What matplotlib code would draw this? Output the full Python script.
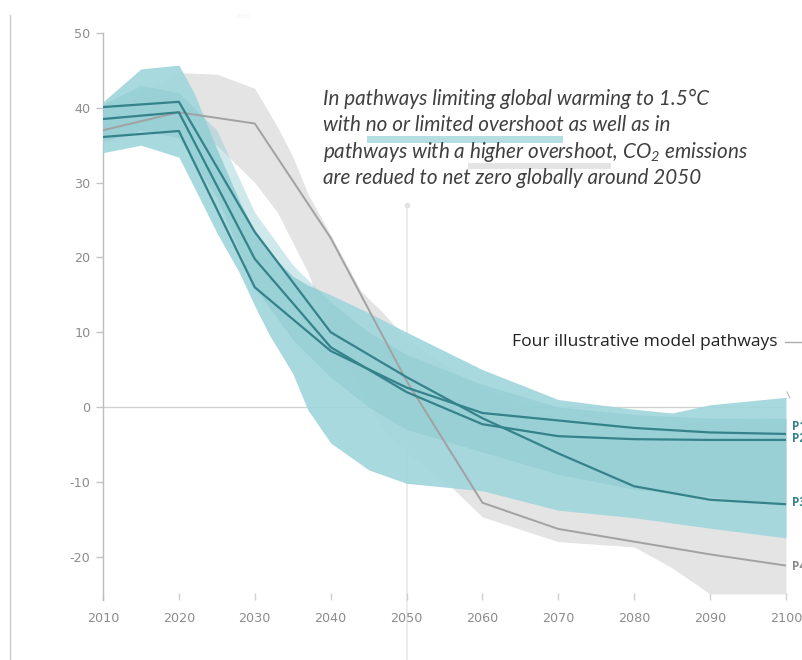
import matplotlib
matplotlib.use("Agg")
import matplotlib.pyplot as plt
from matplotlib.patches import Rectangle
from matplotlib.lines import Line2D

plt.rcParams["axes.unicode_minus"] = False
plt.rcParams["mathtext.fontset"] = "custom"
plt.rcParams["mathtext.rm"] = "Lato:italic"
plt.rcParams["mathtext.it"] = "Lato:italic"

# ---- data: global net CO2 emissions (GtCO2/yr) ----
teal_years = [2010, 2015, 2020, 2022, 2025, 2028, 2030, 2032, 2035, 2037,
              2040, 2045, 2050, 2055, 2060, 2070, 2080, 2085, 2090, 2100]
teal_upper = [40.8, 45.2, 45.7, 42.0, 34.5, 27.5, 23.5, 20.5, 17.5, 16.3,
              15.0, 12.6, 10.0, 7.5, 5.0, 1.0, -0.3, -0.8, 0.3, 1.3]
teal_lower = [34.0, 35.0, 33.4, 29.4, 23.3, 17.9, 13.5, 9.5, 4.5, -0.4,
              -4.8, -8.4, -10.2, -10.7, -11.2, -13.8, -14.8, -15.5, -16.2, -17.5]

core_years = [2010, 2015, 2020, 2025, 2030, 2035, 2040, 2045, 2050,
              2060, 2070, 2080, 2090, 2100]
core_upper = [40.5, 43.0, 42.0, 37.0, 26.0, 19.0, 14.0, 10.0, 7.0,
              3.0, 0.0, -1.0, -1.5, -1.5]
core_lower = [35.5, 37.0, 36.0, 28.0, 16.0, 9.0, 4.0, 0.0, -3.0,
              -6.0, -9.0, -11.0, -12.0, -13.0]

grey_years = [2010, 2015, 2020, 2025, 2030, 2033, 2035, 2037, 2040, 2044,
              2047, 2050, 2056, 2060, 2070, 2080, 2085, 2090, 2100]
grey_upper = [37.5, 42.0, 44.7, 44.5, 42.6, 37.4, 33.5, 28.5, 23.0, 15.5,
              12.5, 9.0, 5.0, 2.5, -1.5, -3.0, -2.5, -2.0, -1.5]
grey_lower = [35.0, 37.0, 37.0, 35.0, 30.0, 26.0, 22.0, 18.0, 10.0, 2.0,
              -3.0, -6.0, -10.8, -14.7, -18.0, -18.7, -21.5, -25.0, -25.0]

pathway_years = [2010, 2020, 2030, 2040, 2050, 2060, 2070, 2080, 2090, 2100]
P1 = [36.1, 36.9, 16.0, 7.5, 2.6, -0.8, -1.8, -2.8, -3.4, -3.6]
P2 = [38.5, 39.4, 19.8, 8.0, 2.0, -2.3, -3.9, -4.3, -4.4, -4.4]
P3 = [40.1, 40.8, 23.4, 10.0, 4.0, -1.5, -6.2, -10.6, -12.4, -13.0]
P4 = [37.0, 39.4, 37.9, 22.6, 3.5, -12.8, -16.3, -18.0, -19.7, -21.2]
pathway_names = ["P1", "P2", "P3", "P4"]

x_ticks = [2010, 2020, 2030, 2040, 2050, 2060, 2070, 2080, 2090, 2100]
y_ticks = [-20, -10, 0, 10, 20, 30, 40, 50]
y_tick_labels = ["-20", "-10", "0", "10", "20", "30", "40", "50"]

# ---- colours ----
TEAL_LIGHT = "#a0d6dc"
TEAL_CORE = "#86c6ce"
TEAL_DARK = "#35828a"
GREY_BAND = "#e4e4e4"
GREY_LINE = "#a2a2a2"
TICK_GREY = "#8c8c8c"

W, H = 802, 660
fig = plt.figure(figsize=(W / 100, H / 100), dpi=100)
fig.patch.set_facecolor("white")


def fx(px):
    return px / W


def fy(py):
    return 1 - py / H


ax = fig.add_axes([fx(103), fy(600), fx(786) - fx(103), fy(33) - fy(600)])
ax.set_xlim(2010, 2100)
ax.set_ylim(-25.8, 50)

# bands
ax.fill_between(grey_years, grey_lower, grey_upper, color=GREY_BAND,
                lw=0, zorder=2)
ax.fill_between(teal_years, teal_lower, teal_upper, color=TEAL_LIGHT,
                alpha=0.92, lw=0, zorder=3)
ax.fill_between(core_years, core_lower, core_upper, color=TEAL_CORE,
                alpha=0.4, lw=0, zorder=3.5)

# zero line and 2050 marker
ax.axhline(0, color="#d2d2d2", lw=1.0, zorder=1)
ax.add_line(Line2D([2050, 2050], [27, -34], color="#e9e9e9", lw=1.2,
                   zorder=0.5, clip_on=False))
ax.plot([2050], [27], marker="o", ms=3, color="#e2e2e2", zorder=0.6,
        clip_on=False)

# illustrative pathways
for vals in (P1, P2, P3):
    ax.plot(pathway_years, vals, color=TEAL_DARK, lw=1.6, zorder=5)
ax.plot(pathway_years, P4, color=GREY_LINE, lw=1.4, zorder=4.5)

# axes styling
for s in ("top", "right", "bottom"):
    ax.spines[s].set_visible(False)
ax.spines["left"].set_color("#bdbdbd")
ax.spines["left"].set_linewidth(1.0)
ax.set_xticks(x_ticks)
ax.set_xticklabels([str(t) for t in x_ticks])
ax.set_yticks(y_ticks)
ax.set_yticklabels(y_tick_labels)
ax.tick_params(axis="x", direction="in", length=5, width=1, color="#cfcfcf",
               labelcolor=TICK_GREY, labelsize=9.2, pad=9)
ax.tick_params(axis="y", direction="out", length=5, width=1, color="#c4c4c4",
               labelcolor=TICK_GREY, labelsize=9.2, pad=4)
for lab in ax.get_xticklabels() + ax.get_yticklabels():
    lab.set_family("DejaVu Sans")

# far-left rule
fig.add_artist(Line2D([fx(10), fx(10)], [fy(15), fy(660)], color="#cccccc",
                      lw=1.0))
fig.text(fx(243), fy(17), "2050", fontsize=4, color="#eeeeee",
         ha="center", va="center")

# annotation with highlight bars
fig.add_artist(Rectangle((fx(367), fy(143)), fx(563) - fx(367),
                         fy(136) - fy(143), color="#b4dee2", lw=0))
fig.add_artist(Rectangle((fx(468), fy(169)), fx(611) - fx(468),
                         fy(163) - fy(169), color="#e4e4e4", lw=0))
ann_lines = [
    "In pathways limiting global warming to 1.5°C",
    "with no or limited overshoot as well as in",
    "pathways with a higher overshoot, CO$_2$ emissions",
    "are redued to net zero globally around 2050",
]
for i, line in enumerate(ann_lines):
    fig.text(fx(323), fy(105 + 26.4 * i), line, fontsize=14.9,
             family="Lato", style="italic", color="#404040",
             ha="left", va="baseline")

# illustrative pathway legend
fig.text(fx(778), fy(342), "Four illustrative model pathways", fontsize=12.6,
         family="Open Sans", color="#222222", ha="right", va="center")
fig.add_artist(Line2D([fx(785), fx(802)], [fy(342), fy(342)],
                      color="#aaaaaa", lw=1.0))
fig.add_artist(Line2D([fx(787), fx(790)], [fy(392), fy(398)],
                      color="#bbbbbb", lw=0.8))
label_py = [426, 438, 503, 567]
label_col = [TEAL_DARK, TEAL_DARK, TEAL_DARK, "#8a8a8a"]
for name, py, c in zip(pathway_names, label_py, label_col):
    fig.text(fx(792), fy(py), name, fontsize=8.5, family="Open Sans",
             weight="bold", color=c, ha="left", va="center")

fig.savefig("out.png", dpi=100, facecolor="white")
